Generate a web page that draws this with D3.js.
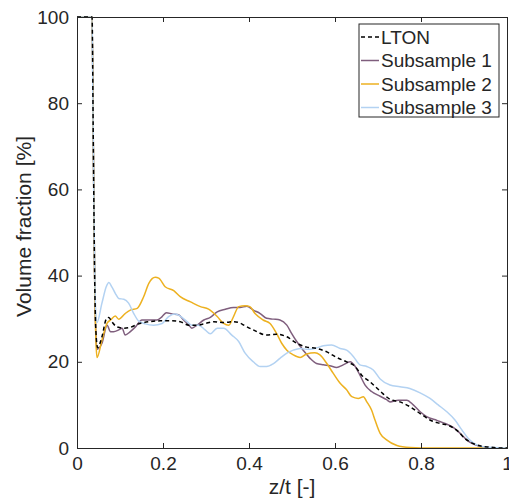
<html>
<head>
<meta charset="utf-8">
<style>
    body { margin: 0; background: white; }
    svg { display: block; font-family: Arial, "Liberation Sans", Helvetica, sans-serif; }
</style>
<script src="https://d3js.org/d3.v7.min.js"></script>
</head>
<body>
<svg id="chart"></svg>
<script>
    // DATA
    let ltonZ = [0, 0.035, 0.038, 0.041, 0.044, 0.048, 0.058, 0.068, 0.074, 0.081, 0.093, 0.109, 0.124, 0.143, 0.167, 0.194, 0.221, 0.24, 0.26, 0.279, 0.298, 0.318, 0.341, 0.364, 0.379, 0.388, 0.41, 0.441, 0.464, 0.488, 0.511, 0.534, 0.557, 0.581, 0.604, 0.627, 0.647, 0.662, 0.681, 0.705, 0.728, 0.751, 0.774, 0.798, 0.821, 0.844, 0.867, 0.887, 0.902, 0.918, 0.937, 0.96, 0.99, 1]
    let ltonV = [100, 100, 70, 40, 27, 23.3, 25.8, 29.9, 30.3, 29.3, 28.1, 27.8, 28, 28.8, 29.3, 29.5, 29.5, 29.3, 28.5, 28.5, 28.9, 29.3, 29.1, 29.3, 29, 28.5, 27.4, 26.2, 26.4, 25.8, 24.3, 23.4, 23.1, 22.3, 21, 20, 18.9, 16.9, 15.4, 13.2, 11.3, 10.7, 9.6, 8, 6.5, 5.7, 5.1, 3.8, 2.2, 1.2, 0.5, 0.2, 0, 0]

    let sub1Z = [0, 0.035, 0.038, 0.041, 0.044, 0.0465, 0.058, 0.07, 0.078, 0.085, 0.097, 0.105, 0.112, 0.124, 0.136, 0.151, 0.167, 0.186, 0.198, 0.208, 0.221, 0.236, 0.248, 0.26, 0.267, 0.279, 0.295, 0.31, 0.326, 0.345, 0.364, 0.379, 0.395, 0.41, 0.426, 0.441, 0.457, 0.472, 0.488, 0.499, 0.511, 0.526, 0.542, 0.557, 0.573, 0.588, 0.604, 0.619, 0.635, 0.647, 0.658, 0.67, 0.685, 0.705, 0.72, 0.728, 0.747, 0.767, 0.782, 0.798, 0.813, 0.837, 0.856, 0.875, 0.891, 0.906, 0.922, 0.945, 0.97, 1]
    let sub1V = [100, 100, 70, 40, 26, 22.9, 24.3, 28.5, 27, 27, 27.4, 27.8, 26.2, 27, 28.1, 29.7, 29.7, 29.7, 30.5, 31.4, 31.1, 30.9, 29.7, 28.5, 27.8, 28.5, 29.7, 30.3, 31.6, 32.2, 32.6, 32.6, 32.9, 32, 31.2, 30.1, 29.9, 29.7, 28.5, 26.6, 24.7, 22.7, 20.8, 19.6, 19.3, 19.1, 18.7, 19.3, 20, 18.9, 16.9, 14.6, 13.1, 12, 11.2, 10.7, 11.1, 11.1, 10, 8.4, 7.3, 6.4, 5.7, 4.8, 3.4, 1.9, 0.9, 0.2, 0, 0]

    let sub2Z = [0, 0.035, 0.038, 0.041, 0.044, 0.0465, 0.058, 0.07, 0.078, 0.089, 0.097, 0.112, 0.124, 0.14, 0.155, 0.167, 0.182, 0.19, 0.205, 0.225, 0.24, 0.264, 0.287, 0.306, 0.326, 0.341, 0.353, 0.364, 0.376, 0.391, 0.402, 0.414, 0.433, 0.449, 0.464, 0.476, 0.488, 0.503, 0.519, 0.534, 0.553, 0.565, 0.581, 0.596, 0.612, 0.627, 0.639, 0.654, 0.666, 0.674, 0.685, 0.693, 0.705, 0.72, 0.744, 0.775, 0.8, 1]
    let sub2V = [100, 100, 70, 40, 25, 21, 25, 29, 29.7, 30.6, 29.9, 31.2, 32, 32.4, 35.1, 38.2, 39.6, 39.4, 37.4, 36.5, 35.1, 33.9, 32.8, 32.2, 30.5, 28.9, 28.5, 30.5, 32.8, 33, 32.8, 31.2, 29.7, 28.9, 26.6, 24.3, 22.7, 21.6, 21, 21.8, 22.1, 21.6, 19.6, 17.3, 15, 13.5, 11.9, 11.5, 11.9, 10.7, 8.8, 6.5, 3.4, 1.9, 0.6, 0.1, 0, 0]

    let sub3Z = [0, 0.035, 0.037, 0.04, 0.043, 0.0465, 0.058, 0.068, 0.074, 0.081, 0.089, 0.097, 0.109, 0.12, 0.132, 0.143, 0.159, 0.178, 0.198, 0.213, 0.229, 0.24, 0.256, 0.267, 0.283, 0.298, 0.31, 0.326, 0.341, 0.36, 0.376, 0.391, 0.41, 0.426, 0.441, 0.457, 0.472, 0.488, 0.503, 0.519, 0.534, 0.553, 0.573, 0.592, 0.612, 0.627, 0.643, 0.658, 0.674, 0.689, 0.705, 0.728, 0.751, 0.774, 0.798, 0.821, 0.84, 0.86, 0.879, 0.895, 0.91, 0.926, 0.945, 0.97, 1]
    let sub3V = [100, 100, 80, 50, 33, 29.1, 33.6, 37.4, 38.4, 37.4, 35.9, 34.7, 34.5, 33.6, 31.2, 29.5, 28.8, 28.5, 28.9, 30.5, 31.1, 30.6, 29.3, 28.5, 28.5, 27.4, 26.5, 27.8, 27.8, 26.2, 24.7, 22, 20, 18.9, 18.9, 19.6, 20.8, 22, 22.7, 23.1, 22.9, 23.1, 23.7, 23.9, 23.1, 22.7, 21.2, 19.3, 18.9, 18.1, 16, 14.6, 14.2, 13.8, 12.8, 11.5, 10, 8.4, 6.5, 4.2, 2.2, 0.9, 0.3, 0.1, 0]

    let seriesNames = ["LTON", "Subsample 1", "Subsample 2", "Subsample 3"]
    let seriesColors = ["#000000", "#7f5e7d", "#edb120", "#b3d2f2"]
    let xTicks = [0, 0.2, 0.4, 0.6, 0.8, 1]
    let yTicks = [0, 20, 40, 60, 80, 100]

    // CONFIG
    let width = 509
    let height = 503
    let margin = { top: 17, bottom: 55, left: 77, right: 2 }
    let bodyWidth = width - margin.left - margin.right
    let bodyHeight = height - margin.top - margin.bottom
    let axisColor = "#262626"

    let svg = d3.select("#chart")
        .attr("width", width)
        .attr("height", height)

    let xScale = d3.scaleLinear().domain([0, 1]).range([margin.left, margin.left + bodyWidth])
    let yScale = d3.scaleLinear().domain([0, 100]).range([margin.top + bodyHeight, margin.top])

    svg.append("clipPath").attr("id", "plotClip")
        .append("rect")
        .attr("x", margin.left).attr("y", margin.top - 1)
        .attr("width", bodyWidth).attr("height", bodyHeight + 2)

    // LINES
    let series = [
        { name: seriesNames[0], z: ltonZ, v: ltonV, color: seriesColors[0], dash: "4,3" },
        { name: seriesNames[1], z: sub1Z, v: sub1V, color: seriesColors[1], dash: null },
        { name: seriesNames[2], z: sub2Z, v: sub2V, color: seriesColors[2], dash: null },
        { name: seriesNames[3], z: sub3Z, v: sub3V, color: seriesColors[3], dash: null }
    ]

    let line = d3.line()
        .x(d => xScale(d[0]))
        .y(d => yScale(d[1]))
        .curve(d3.curveMonotoneX)

    let linesG = svg.append("g").attr("clip-path", "url(#plotClip)")
    // draw subsamples first, dashed LTON on top
    let drawOrder = [1, 2, 3, 0]
    drawOrder.forEach(i => {
        let s = series[i]
        let pts = s.z.map((z, j) => [z, s.v[j]])
        linesG.append("path")
            .attr("d", line(pts))
            .attr("fill", "none")
            .attr("stroke", s.color)
            .attr("stroke-width", 1.5)
            .attr("stroke-dasharray", s.dash)
            .attr("stroke-linejoin", "round")
    })

    // AXES (MATLAB style, ticks inside, box on)
    let xAxis = d3.axisBottom(xScale).tickValues(xTicks).tickSize(-5).tickPadding(9)
        .tickFormat(d => d3.format("")(d))
    let yAxis = d3.axisLeft(yScale).tickValues(yTicks).tickSize(-5).tickPadding(8)

    let gx = svg.append("g")
        .attr("transform", `translate(0,${margin.top + bodyHeight})`)
        .call(xAxis)
    let gy = svg.append("g")
        .attr("transform", `translate(${margin.left},0)`)
        .call(yAxis)
    let gxTop = svg.append("g")
        .attr("transform", `translate(0,${margin.top})`)
        .call(d3.axisTop(xScale).tickValues(xTicks).tickSize(-5).tickFormat(""))
    let gyRight = svg.append("g")
        .attr("transform", `translate(${margin.left + bodyWidth},0)`)
        .call(d3.axisRight(yScale).tickValues(yTicks).tickSize(-5).tickFormat(""))

    ;[gx, gy, gxTop, gyRight].forEach(g => {
        g.select(".domain").attr("stroke", axisColor).attr("stroke-width", 1)
        g.selectAll(".tick line").attr("stroke", axisColor)
        g.selectAll(".tick text")
            .attr("fill", axisColor)
            .style("font-size", "19px")
            .style("font-family", "Arial, 'Liberation Sans', sans-serif")
    })
    gx.selectAll(".tick text").attr("dy", "0.71em")

    // AXIS LABELS
    svg.append("text")
        .attr("x", margin.left + bodyWidth / 2)
        .attr("y", 494)
        .attr("text-anchor", "middle")
        .attr("fill", axisColor)
        .style("font-size", "21px")
        .text("z/t [-]")

    svg.append("text")
        .attr("transform", `translate(31,${margin.top + bodyHeight / 2 - 6}) rotate(-90)`)
        .attr("text-anchor", "middle")
        .attr("fill", axisColor)
        .style("font-size", "21px")
        .text("Volume fraction [%]")

    // LEGEND
    let legend = svg.append("g").attr("transform", "translate(359,24)")
    legend.append("rect")
        .attr("width", 140).attr("height", 93)
        .attr("fill", "white")
        .attr("stroke", axisColor)
        .attr("stroke-width", 1)
    series.forEach((s, i) => {
        let cy = 13 + i * 23.5
        legend.append("line")
            .attr("x1", 2).attr("x2", 20)
            .attr("y1", cy).attr("y2", cy)
            .attr("stroke", s.color)
            .attr("stroke-width", 1.5)
            .attr("stroke-dasharray", s.dash)
        legend.append("text")
            .attr("x", 22).attr("y", cy)
            .attr("dy", "0.35em")
            .attr("fill", axisColor)
            .style("font-size", "19px")
            .text(s.name)
    })
</script>
</body>
</html>
